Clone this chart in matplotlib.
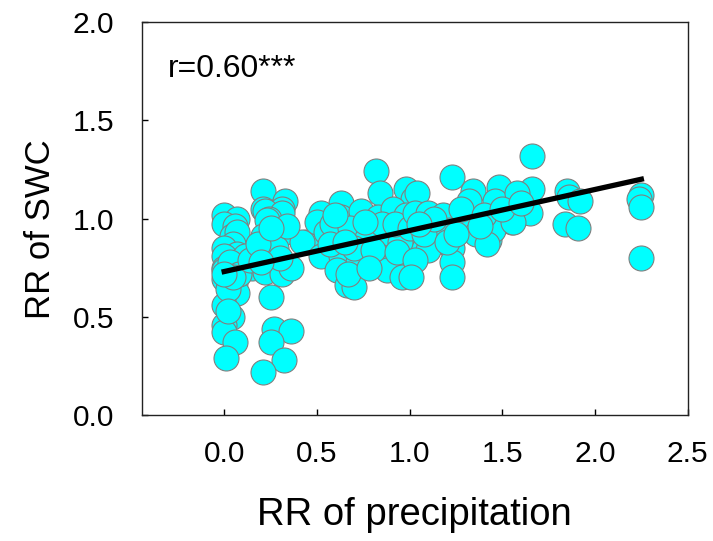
import numpy as np
import matplotlib
matplotlib.use('Agg')
import matplotlib.pyplot as plt
from matplotlib import rcParams

rcParams['font.family'] = ['Liberation Sans', 'DejaVu Sans']

# RR of precipitation (x) and RR of SWC (y)
rr_precip = [
    0.00, 0.07, 0.00, 0.06, 0.04, 0.07, 0.05, 0.00, 0.07, 0.00, 0.11, 0.14,
    0.00, 0.15, 0.00, 0.00, 0.06, 0.07, 0.00, 0.04, 0.00, 0.00, 0.06, 0.01,
    0.02, 0.03, 0.08, 0.02, 0.05, 0.00,
    0.21, 0.33, 0.21, 0.31, 0.22, 0.31, 0.24, 0.23, 0.21, 0.33, 0.26, 0.27,
    0.22, 0.31, 0.36, 0.25, 0.27, 0.36, 0.25, 0.32, 0.21, 0.14, 0.44, 0.42,
    0.28, 0.18, 0.30, 0.20, 0.34, 0.25,
    0.82, 0.84, 0.63, 0.98, 1.02, 0.52, 0.63, 0.74, 0.83, 0.91, 0.98, 0.50,
    0.55, 0.63, 0.82, 1.02, 0.52, 0.63, 0.72, 0.87, 0.95, 0.61, 0.88, 0.66,
    0.70, 0.96, 1.07, 0.58, 0.68, 0.77, 0.90, 0.95, 0.57, 0.70, 0.80, 0.85,
    0.60, 0.76, 0.92, 0.67, 0.78, 0.93, 1.00, 0.65,
    1.66, 1.23, 1.34, 1.48, 1.66, 1.32, 1.46, 1.58, 1.65, 1.55, 1.04, 1.03,
    1.10, 1.18, 1.22, 1.33, 1.36, 1.43, 1.45, 1.10, 1.23, 1.03, 1.23, 1.23,
    1.01, 1.56, 1.42, 1.15, 1.08, 1.20, 1.13, 1.05, 1.28, 1.40, 1.50, 1.38,
    1.25, 1.60,
    1.85, 1.86, 1.92, 1.84, 1.91, 2.25, 2.24, 2.25, 2.25,
]
rr_swc = [
    1.02, 1.00, 0.97, 0.96, 0.91, 0.93, 0.87, 0.85, 0.82, 0.81, 0.81, 0.78,
    0.75, 0.75, 0.74, 0.69, 0.67, 0.62, 0.56, 0.50, 0.46, 0.42, 0.37, 0.29,
    0.64, 0.78, 0.72, 0.53, 0.70, 0.72,
    1.14, 1.09, 1.05, 1.05, 1.04, 1.03, 1.00, 0.99, 0.91, 0.93, 0.82, 0.76,
    0.73, 0.72, 0.75, 0.60, 0.44, 0.43, 0.37, 0.28, 0.22, 0.79, 0.88, 0.88,
    0.85, 0.87, 0.80, 0.78, 0.96, 0.95,
    1.24, 1.13, 1.08, 1.15, 1.10, 1.03, 1.01, 1.04, 1.01, 1.05, 1.02, 0.98,
    0.93, 0.91, 0.94, 0.92, 0.81, 0.81, 0.78, 0.81, 0.79, 0.74, 0.74, 0.66,
    0.65, 0.70, 0.84, 0.97, 0.95, 0.90, 0.92, 0.88, 0.87, 0.85, 0.84, 0.97,
    1.02, 0.98, 0.97, 0.72, 0.75, 0.83, 0.95, 0.88,
    1.32, 1.21, 1.14, 1.16, 1.15, 1.09, 1.09, 1.13, 1.03, 0.98, 1.13, 1.03,
    1.03, 1.02, 0.94, 0.98, 0.92, 0.89, 0.94, 0.84, 0.85, 0.79, 0.78, 0.70,
    0.70, 0.98, 0.87, 0.95, 0.92, 0.88, 1.00, 0.97, 1.05, 1.02, 1.05, 0.96,
    0.92, 1.08,
    1.14, 1.11, 1.09, 0.97, 0.95, 1.12, 1.10, 1.06, 0.80,
]

# regression line ends
fit_x = [0.0, 2.25]
fit_y = [0.73, 1.20]

xticks = [0.0, 0.5, 1.0, 1.5, 2.0, 2.5]
yticks = [0.0, 0.5, 1.0, 1.5, 2.0]

fig = plt.figure(figsize=(7.13, 5.41), dpi=100)
ax = fig.add_axes([0.1987, 0.2329, 0.7658, 0.7264])

ax.scatter(rr_precip, rr_swc, s=324, c='#00FFFF', edgecolors='#808080',
           linewidths=0.8, zorder=2)
ax.plot(fit_x, fit_y, color='black', linewidth=3.8, zorder=3)

ax.set_xlim(-0.445, 2.5)
ax.set_ylim(0, 2.0)
ax.set_xticks(xticks)
ax.set_yticks(yticks)
ax.set_xticklabels(['%.1f' % v for v in xticks])
ax.set_yticklabels(['%.1f' % v for v in yticks])
ax.tick_params(direction='in', length=4, width=1, labelsize=21.5)
ax.tick_params(axis='x', pad=18)
ax.tick_params(axis='y', pad=20)

for sp in ax.spines.values():
    sp.set_linewidth(1)
    sp.set_color('#222222')

ax.set_xlabel('RR of precipitation', fontsize=27.5)
ax.set_ylabel('RR of SWC', fontsize=25)
ax.xaxis.set_label_coords(0.5, -0.209)
ax.yaxis.set_label_coords(-0.155, 0.473)

ax.text(0.048, 0.86, 'r=0.60***', transform=ax.transAxes, fontsize=23,
        va='baseline', ha='left')

fig.savefig('out.png', dpi=100)
